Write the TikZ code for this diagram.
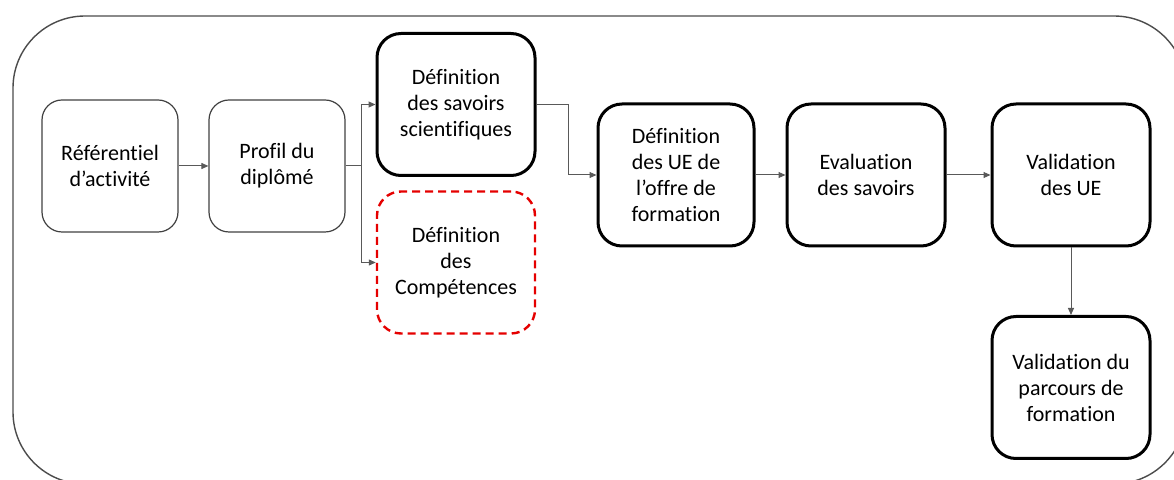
\documentclass[tikz,border=0pt]{standalone}
\usepackage{fontspec}
\setmainfont{Carlito}[Ligatures=NoCommon]
\usetikzlibrary{arrows.meta}
\tikzset{
  etape/.style={draw, rounded corners=12pt, align=center, minimum width=79pt,
    minimum height=71pt, line width=1.5pt, inner sep=2pt,
    font=\fontsize{11}{13}\selectfont, text=black},
  fine/.style={etape, line width=0.6pt, draw=black!75, rounded corners=10pt,
    minimum width=68pt, minimum height=66pt},
  rouge/.style={etape, draw=red!90!black, line width=1.2pt,
    dash pattern=on 4pt off 2.5pt},
  fleche/.style={-{Triangle[length=3.5pt,width=3pt]}, draw=black!65, line width=0.5pt}
}
\begin{document}
\begin{tikzpicture}[x=0.5pt,y=-0.5pt]
      \clip (0,0) rectangle (1174,480);
      %% cadre
      \draw[black!70, line width=0.7pt, rounded corners=36pt] (13,16) rectangle (1186,484);
      %% etapes
      \node[fine] (1) at (110,166) {Référentiel\\d’activité};
      \node[fine] (2) at (277,166) {Profil du\\diplômé};
      \node[etape] (3) at (456,104.5) {Définition\\des savoirs\\scientifiques};
      \node[rouge] (4) at (456,262.5) {Définition\\des\\Compétences};
      \node[etape, minimum width=78pt] (5) at (676,175) {Définition\\des UE de\\l’offre de\\formation};
      \node[etape] (6) at (866,175) {Evaluation\\des savoirs};
      \node[etape] (7) at (1071,175) {Validation\\des UE};
      \node[etape] (8) at (1071,387.5) {Validation du\\parcours de\\formation};
      %% fleches
      \draw[fleche] (1) -- (2);
      \draw[fleche] (2.east) -- ++(16,0) |- (3.west);
      \draw[fleche] (2.east) -- ++(16,0) |- (4.west);
      \draw[fleche] (3.east) -- ++(32,0) |- (5.west);
      \draw[fleche] (5) -- (6);
      \draw[fleche] (6) -- (7);
      \draw[fleche] (7) -- (8);
\end{tikzpicture}
\end{document}
